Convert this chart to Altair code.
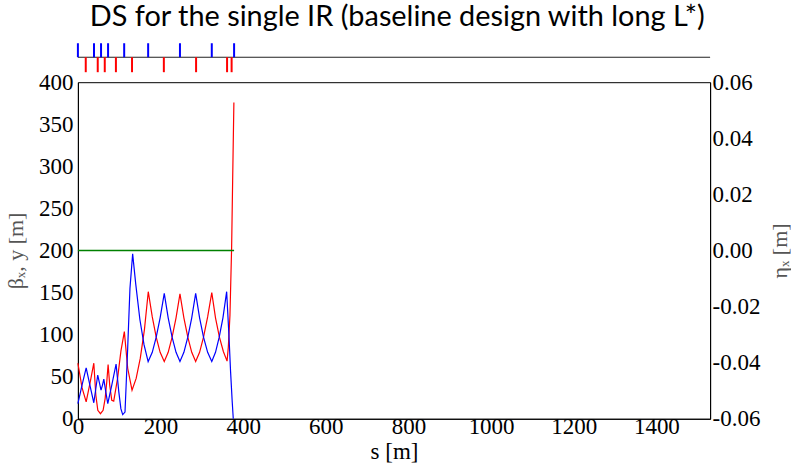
import altair as alt
import pandas as pd

# ---------------- data ----------------
# beta (red curve)
s_red = [0, 10, 20, 30, 38.5, 43.4, 48.2, 54.6, 61, 65.9, 69.9, 73.1, 77, 82, 86.7, 96,
         104, 112.4, 120.5, 131, 141, 151, 161, 170.3, 180, 189.5, 199, 209, 218.5, 228,
         237.5, 247, 256.5, 266, 275.5, 285, 294.5, 304, 314, 324, 333, 342.5, 352, 361,
         364, 368, 372, 374.5, 377.5]
beta_red = [66, 37, 20, 44, 66, 28, 10, 6, 10, 24, 44, 64.5, 40, 22, 21, 48,
            80, 103.5, 60, 34, 48, 72, 106, 151, 121, 97, 79, 68, 79, 97,
            120, 148.5, 120, 97, 79, 68, 79, 97, 121, 150, 120, 97, 80, 68.5,
            85, 123, 203, 283, 376]

# beta (blue curve)
s_blue = [0, 10, 20, 29, 38.5, 44, 48, 52, 56, 59.5, 62.7, 67.5, 72.3, 82, 92.4, 99,
          104, 108.4, 114, 120.5, 126, 132.5, 140, 150, 160, 170, 180, 189.5, 199, 209,
          218.5, 228, 237.5, 247, 256.5, 266, 275.5, 285, 294.5, 304, 314, 324, 333,
          342, 351, 360, 365.5, 369.5, 373.5, 376]
beta_blue = [18, 40, 60.5, 40, 19, 38, 52, 43, 34, 40, 47, 32, 18, 40, 65, 32,
             12, 5, 8, 84, 155, 196, 160, 118, 88, 68, 79, 97, 120, 149,
             120, 97, 79, 68, 79, 97, 120, 149, 120, 97, 79, 68, 79,
             97, 120, 151, 99.5, 56, 20, 0]

# dispersion (green)
s_eta = [0, 378]
eta = [0.0, 0.0]

# lattice elements (top bar)
lat_blue = [0, 39, 56, 73, 112, 170, 247, 324, 378]
lat_red = [19, 48, 65, 92, 131, 208, 286, 361, 372]

x_ticks = [0, 200, 400, 600, 800, 1000, 1200, 1400]
y_ticks = [0, 50, 100, 150, 200, 250, 300, 350, 400]
eta_ticks = [-0.06, -0.04, -0.02, 0.0, 0.02, 0.04, 0.06]

X_MAX = 1530
W, H = 633, 337
SERIF = "Liberation Serif"
FS = 23

red_df = pd.DataFrame({"s": s_red, "beta": beta_red})
blue_df = pd.DataFrame({"s": s_blue, "beta": beta_blue})
eta_df = pd.DataFrame({"s": s_eta, "eta": eta})
latb_df = pd.DataFrame({"s": lat_blue, "lo": 0.0, "hi": 1.0})
latr_df = pd.DataFrame({"s": lat_red, "lo": 0.0, "hi": -1.07})
lat_line_df = pd.DataFrame({"s0": [0], "s1": [X_MAX], "yy": [0.0]})

xscale = alt.Scale(domain=[0, X_MAX], nice=False, zero=False)
bscale = alt.Scale(domain=[0, 400], nice=False)

xaxis = alt.Axis(title="s [m]", values=x_ticks, format="d", ticks=False,
                 labelPadding=-3, labelFont=SERIF, labelFontSize=FS,
                 labelColor="black", titleFont=SERIF, titleFontSize=FS,
                 titleFontWeight="normal", titleColor="black", titlePadding=2,
                 domainColor="black", grid=False, labelFlush=False)
yaxis = alt.Axis(title="βₓ, y [m]", values=y_ticks, ticks=False,
                 labelPadding=5, labelFont=SERIF, labelFontSize=FS,
                 labelColor="black", titleFont=SERIF, titleFontSize=22,
                 titleFontWeight="normal", titleColor="#555555", titlePadding=11,
                 domainColor="black", grid=False)

red_line = alt.Chart(red_df).mark_line(strokeWidth=1.2, color="#ff0000").encode(
    x=alt.X("s:Q", scale=xscale, axis=xaxis),
    y=alt.Y("beta:Q", scale=bscale, axis=yaxis),
)
blue_line = alt.Chart(blue_df).mark_line(strokeWidth=1.2, color="#0000ff").encode(
    x=alt.X("s:Q", scale=xscale),
    y=alt.Y("beta:Q", scale=bscale),
)

eta_line = alt.Chart(eta_df).mark_line(color="#008000", strokeWidth=1.4).encode(
    x=alt.X("s:Q", scale=xscale),
    y=alt.Y("eta:Q", scale=alt.Scale(domain=[-0.06, 0.06], nice=False, zero=False),
            axis=alt.Axis(orient="right", title="ηₓ [m]", values=eta_ticks, ticks=False,
                          labelExpr="replace(format(datum.value, '.2f'), '\u2212', '-')",
                          labelPadding=2, labelFont=SERIF, labelFontSize=FS,
                          labelColor="black", titleFont=SERIF, titleFontSize=22,
                          titleFontWeight="normal", titleColor="#555555", titleAngle=270,
                          titleBaseline="middle", titleAlign="center",
                          titleX=69, titleY=H / 2, domainColor="black", grid=False)),
)

main = alt.layer(alt.layer(red_line, blue_line), eta_line).resolve_scale(y="independent").properties(
    width=W, height=H)

lscale = alt.Scale(domain=[-1.07, 1], nice=False)
lat_axis = alt.Chart(lat_line_df).mark_rule(color="#222222", strokeWidth=1.2).encode(
    x=alt.X("s0:Q", scale=xscale, axis=None), x2="s1:Q",
    y=alt.Y("yy:Q", scale=lscale, axis=None),
)
lat_b = alt.Chart(latb_df).mark_rule(strokeWidth=2, color="#0000ff").encode(
    x=alt.X("s:Q", scale=xscale, axis=None),
    y=alt.Y("lo:Q", scale=lscale, axis=None), y2="hi:Q",
)
lat_r = alt.Chart(latr_df).mark_rule(strokeWidth=2, color="#ff0000").encode(
    x=alt.X("s:Q", scale=xscale, axis=None),
    y=alt.Y("lo:Q", scale=lscale, axis=None), y2="hi:Q",
)
lattice = alt.layer(lat_axis, lat_b, lat_r).properties(
    width=W, height=29, view=alt.ViewConfig(stroke=None))

chart = alt.vconcat(lattice, main, spacing=10, bounds="flush").properties(
    title=alt.TitleParams("DS for the single IR (baseline design with long L*)",
                          font="Lato", fontSize=28.9, fontWeight="normal", color="black",
                          anchor="middle", offset=10),
    padding={"left": 4, "top": 3, "right": 0, "bottom": 0},
).configure_view(stroke="black", strokeWidth=1)

chart.save("out.html", embed_options={"renderer": "svg", "actions": False})
